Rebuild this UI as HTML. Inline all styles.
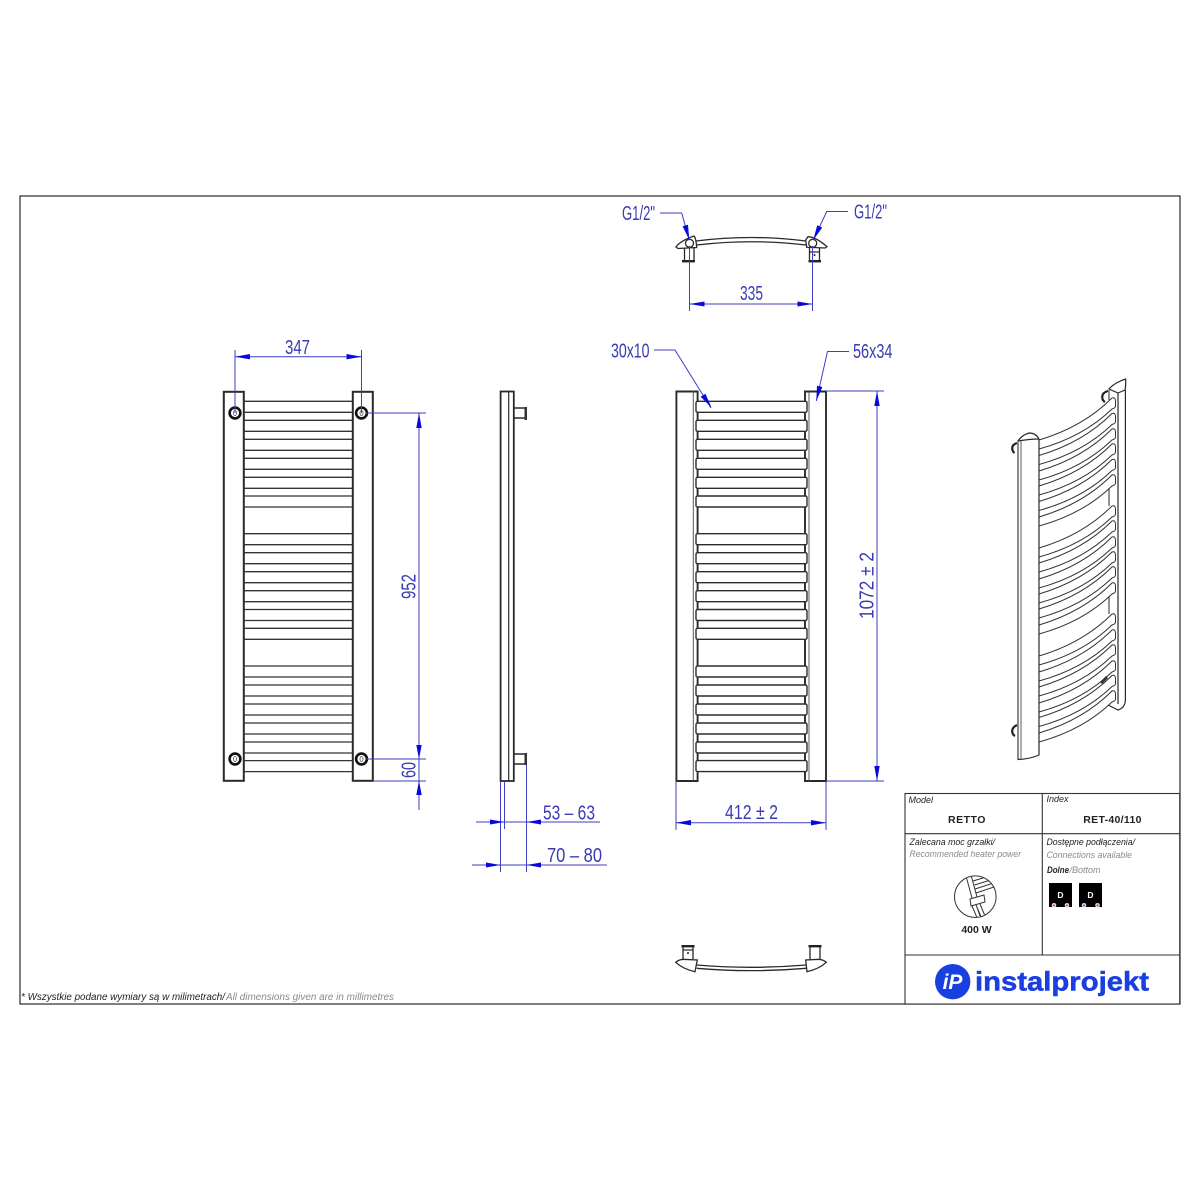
<!DOCTYPE html>
<html><head><meta charset="utf-8"><style>
html,body{margin:0;padding:0;background:#fff}
svg{display:block}
.d{font-family:"Liberation Sans",sans-serif;font-size:20px;fill:#3a3ab4}
.l{stroke:#3f3fc0;stroke-width:1;fill:none}
.a{fill:#0808dc}
.k{stroke:#2a2a2a;fill:none}
.t{font-family:"Liberation Sans",sans-serif;fill:#222}
.i{font-style:italic;font-size:9px}
.g{fill:#8a8a8a}
</style></head><body>
<svg width="1200" height="1200" viewBox="0 0 1200 1200" xmlns="http://www.w3.org/2000/svg">
<defs>
<clipPath id="cc"><circle cx="975.3" cy="896.7" r="20.5"/></clipPath>
<path id="r" d="M1039,42 Q1083,29 1112,0 Q1115.5,-1 1115.5,3 L1115.5,8 Q1115.5,10 1112,11 Q1083,39 1039,51 Z" fill="#fff" stroke="#333" stroke-width="1"/>
<g id="ft"><rect x="696" y="0" width="111" height="11" rx="1.5" fill="#fff" stroke="#2c2c2c" stroke-width="1.4"/></g>
<g id="lt"><path d="M244,0H352.5M244,11H352.5" stroke="#333" stroke-width="1.3" fill="none"/></g>
<g id="bolt"><circle r="5.4" fill="#fff" stroke="#111" stroke-width="2.6"/><ellipse rx="1.5" ry="2.6" fill="none" stroke="#555" stroke-width=".8"/></g>
</defs>
<rect width="1200" height="1200" fill="#fff"/>
<rect x="20" y="196" width="1160" height="808" fill="none" stroke="#3a3a3a" stroke-width="1.3"/>

<!-- left view -->
<g class="k" stroke-width="2"><rect x="223.8" y="391.8" width="20" height="389"/><rect x="352.8" y="391.8" width="20" height="389"/></g>
<use href="#lt" y="401.3"/><use href="#lt" y="420.3"/><use href="#lt" y="439.3"/><use href="#lt" y="458.3"/><use href="#lt" y="477.3"/><use href="#lt" y="496"/>
<use href="#lt" y="533.7"/><use href="#lt" y="552.7"/><use href="#lt" y="571.7"/><use href="#lt" y="590.7"/><use href="#lt" y="609.5"/><use href="#lt" y="628.3"/>
<use href="#lt" y="666"/><use href="#lt" y="685"/><use href="#lt" y="704"/><use href="#lt" y="723"/><use href="#lt" y="742"/><use href="#lt" y="760.6"/>
<use href="#bolt" x="235" y="413"/><use href="#bolt" x="361.5" y="413"/><use href="#bolt" x="235" y="759"/><use href="#bolt" x="361.5" y="759"/>
<path class="l" d="M235,350V413M361.5,350V413M235,356.7H361.5M366,413H426M366,759H426M373,781H426M419,413V810"/>
<polygon class="a" points="235,356.7 250,354 250,359.4"/><polygon class="a" points="361.5,356.7 346.5,354 346.5,359.4"/>
<polygon class="a" points="419,413 416.3,428 421.7,428"/><polygon class="a" points="419,759 416.3,745 421.7,745"/><polygon class="a" points="419,781 416.3,795 421.7,795"/>
<text class="d" x="285" y="354" textLength="25" lengthAdjust="spacingAndGlyphs">347</text>
<text class="d" transform="translate(415.5,599) rotate(-90)" textLength="25" lengthAdjust="spacingAndGlyphs">952</text>
<text class="d" transform="translate(415.5,778) rotate(-90)" textLength="16" lengthAdjust="spacingAndGlyphs">60</text>

<!-- side view -->
<g class="k"><rect x="500.6" y="391.5" width="13.2" height="389.5" stroke-width="1.8" fill="#fff"/><path d="M508.7,391.5V781" stroke-width="1.2"/>
<path d="M514,408H525M514,418H525M514,754H525M514,764H525" stroke-width="1.4"/></g>
<rect x="524.5" y="407" width="2.5" height="13" fill="#333"/><rect x="524.5" y="753" width="2.5" height="12" fill="#333"/>
<path class="l" d="M500.5,781V872M504.5,781V829M526.5,765V872M476,822H600M472,865H607"/>
<polygon class="a" points="504.5,822 490,819.5 490,824.5"/><polygon class="a" points="526.5,822 541,819.5 541,824.5"/>
<polygon class="a" points="500.5,865 486,862.5 486,867.5"/><polygon class="a" points="526.5,865 541,862.5 541,867.5"/>
<text class="d" x="543" y="819.5" textLength="52" lengthAdjust="spacingAndGlyphs">53 – 63</text>
<text class="d" x="547" y="862" textLength="55" lengthAdjust="spacingAndGlyphs">70 – 80</text>

<!-- front view -->
<g class="k"><path d="M697.6,391.5H676.4V781H697.6Z M805,391.5H826V781H805Z" stroke-width="1.9"/><path d="M693.3,391.5V781M809,391.5V781" stroke-width="1" stroke="#555"/></g>
<use href="#ft" y="401.3"/><use href="#ft" y="420.3"/><use href="#ft" y="439.3"/><use href="#ft" y="458.3"/><use href="#ft" y="477.3"/><use href="#ft" y="496"/>
<use href="#ft" y="533.7"/><use href="#ft" y="552.7"/><use href="#ft" y="571.7"/><use href="#ft" y="590.7"/><use href="#ft" y="609.5"/><use href="#ft" y="628.3"/>
<use href="#ft" y="666"/><use href="#ft" y="685"/><use href="#ft" y="704"/><use href="#ft" y="723"/><use href="#ft" y="742"/><use href="#ft" y="760.6"/>
<path class="l" d="M826,391H884M826,781H884M877,391V781M676,781V830M826,781V830M676,822.7H826"/>
<polygon class="a" points="877,391 874.3,406 879.7,406"/><polygon class="a" points="877,781 874.3,766 879.7,766"/>
<polygon class="a" points="676,822.7 691,820 691,825.4"/><polygon class="a" points="826,822.7 811,820 811,825.4"/>
<text class="d" transform="translate(873.5,619) rotate(-90)" textLength="67" lengthAdjust="spacingAndGlyphs">1072 ± 2</text>
<text class="d" x="725" y="819" textLength="53" lengthAdjust="spacingAndGlyphs">412 ± 2</text>
<path class="l" d="M654,350H675L711,408M849,351.5H827.5L816.3,401"/>
<polygon class="a" points="711.5,407.5 705.4,393.7 700.6,396.7"/><polygon class="a" points="816.3,401 822.4,387 817,385.8"/>
<text class="d" x="611" y="357.5" textLength="38.5" lengthAdjust="spacingAndGlyphs">30x10</text>
<text class="d" x="853" y="358" textLength="39.5" lengthAdjust="spacingAndGlyphs">56x34</text>

<!-- top view -->
<g class="k" stroke-width="1.3">
<path d="M696,241 Q751,234 806,241M697,245 Q751,238.5 806,245"/>
<path d="M684.5,248V260M694,248V260M809.5,248V260M819.5,248V260M809.5,252H819.5"/>
<path d="M676,247 Q680,241 694,236 Q696,238 696.7,247.5 L678,248.5Z M805.7,240 L808,236.7 Q816,237 827,246.7 L825,248 L806.7,247.3Z" fill="#fff"/>
<circle cx="689.5" cy="243.3" r="4"/><circle cx="812.7" cy="243.3" r="4"/>
</g>
<rect x="682" y="260" width="13" height="2.4" fill="#222"/><rect x="808.5" y="260" width="12.5" height="2.4" fill="#222"/>
<circle cx="814.5" cy="255" r="1" fill="#222"/>
<path class="l" d="M689.5,246V311M812.5,246V311M689.5,304H812.5M660,213H681.7L689.3,240M848,211.5H826.7L813.5,240"/>
<polygon class="a" points="689.5,304 704.5,301.5 704.5,306.5"/><polygon class="a" points="812.5,304 797.5,301.5 797.5,306.5"/>
<polygon class="a" points="689.3,240 688,224.8 682.6,226.3"/><polygon class="a" points="813.3,240 822.2,227.6 817.2,225.2"/>
<text class="d" x="740" y="300" textLength="23" lengthAdjust="spacingAndGlyphs">335</text>
<text class="d" x="622" y="220" textLength="33" lengthAdjust="spacingAndGlyphs">G1/2"</text>
<text class="d" x="854" y="218.5" textLength="33" lengthAdjust="spacingAndGlyphs">G1/2"</text>

<!-- bottom view -->
<g class="k" stroke-width="1.3">
<path d="M696.7,965 Q751,969.6 806,965M696.7,968.3 Q751,973 806,968.3"/>
<path d="M683,947V959M693,947V959M810,947V959M820,947V959M683,950H693"/>
<path d="M675.7,962.3 Q678,960 683,959.3 L697.3,960 L695,971.7 Q683,969 675.7,962.3Z M826.3,962.3 Q824,960 819,959.3 L805.7,960 L807,971.7 Q819,969 826.3,962.3Z" fill="#fff"/>
</g>
<rect x="681.5" y="945" width="13" height="2.4" fill="#222"/><rect x="808.5" y="945" width="13" height="2.4" fill="#222"/>
<circle cx="688" cy="953" r="1" fill="#222"/>

<!-- isometric -->
<g class="k" stroke-width="1.2">
<path d="M1109,389 Q1114,383 1125.6,379 Q1126,386 1125,390 L1118,393 L1109,389Z" fill="#fff"/>
<path d="M1118,393V704M1125.4,390V700 Q1125,708 1118,710 L1108,705"/>
<path d="M1109,488V506M1109,596V614M1109,390V400" stroke-width="1"/>
</g>
<path d="M1108,391 Q1101,393 1102.5,399 Q1103,401 1105,402" fill="none" stroke="#222" stroke-width="2.2"/>
<use href="#r" y="398"/><use href="#r" y="413.5"/><use href="#r" y="429"/><use href="#r" y="444"/><use href="#r" y="459.5"/><use href="#r" y="475"/>
<use href="#r" y="506"/><use href="#r" y="521"/><use href="#r" y="537"/><use href="#r" y="552"/><use href="#r" y="567"/><use href="#r" y="583"/>
<use href="#r" y="614"/><use href="#r" y="630"/><use href="#r" y="645"/><use href="#r" y="661"/><use href="#r" y="675.5"/><use href="#r" y="691"/>
<path d="M1100,682 L1106,676 L1108,678 L1102,684Z" fill="#333"/>
<g class="k" stroke-width="1.2">
<path d="M1018,441 Q1022,435 1029,433 Q1036,433 1039,439 L1039,755 Q1030,759 1018,759.5Z" fill="#fff"/>
<path d="M1018,441 Q1030,439 1039,439"/>
<path d="M1021,441V759" stroke="#777"/>
</g>
<path d="M1018,441V759" stroke="#777" stroke-width="1.6"/>
<path d="M1017,443 Q1011,445 1012.5,450 Q1013,452 1014.5,453" fill="none" stroke="#222" stroke-width="2.2"/>
<path d="M1017,725 Q1011,728 1012.5,733 Q1013,735 1015,736" fill="none" stroke="#222" stroke-width="2.2"/>

<!-- title block -->
<g stroke="#333" stroke-width="1.1" fill="none"><rect x="905" y="793.5" width="274.7" height="210.5" fill="#fff"/><path d="M905,833.7H1179.7M905,955H1179.7M1042.3,793.5V955"/></g>
<text class="t i" x="908.5" y="803" font-size="8.5">Model</text>
<text class="t i" x="1046.5" y="802">Index</text>
<text class="t" x="967" y="823" text-anchor="middle" font-size="10.5" font-weight="bold" letter-spacing=".5">RETTO</text>
<text class="t" x="1112.5" y="823" text-anchor="middle" font-size="10.5" font-weight="bold" letter-spacing=".3">RET-40/110</text>
<text class="t i" x="909.5" y="845" textLength="85.5" lengthAdjust="spacingAndGlyphs">Zalecana moc grzałki/</text>
<text class="t i g" x="909.5" y="857" textLength="111.5" lengthAdjust="spacingAndGlyphs">Recommended heater power</text>
<text class="t i" x="1046.5" y="845" textLength="88.5" lengthAdjust="spacingAndGlyphs">Dostępne podłączenia/</text>
<text class="t i g" x="1046.5" y="858" textLength="85.5" lengthAdjust="spacingAndGlyphs">Connections available</text>
<text class="t i" x="1047" y="873" font-weight="bold" font-size="8.5" textLength="22" lengthAdjust="spacingAndGlyphs">Dolne</text>
<text class="t i g" x="1069.5" y="873" textLength="31" lengthAdjust="spacingAndGlyphs">/Bottom</text>

<circle cx="975.3" cy="896.7" r="20.8" fill="none" stroke="#333" stroke-width="1"/>
<g clip-path="url(#cc)" stroke="#333" stroke-width="1" fill="#fff">
<path d="M966,876 L972,898M971,875 L977,897"/>
<path d="M973,881 L996,874M974.5,885 L997,878M975,889 L997,882M976,893 L997,886"/>
<path d="M970,899 L984,895 L985,902 L971,906Z"/>
<path d="M972,906 L978,920M976,905 L982,919M980,904 L985,916M976.5,906 L980,916"/>
</g>
<text class="t" x="976.5" y="933" text-anchor="middle" font-size="10.5" font-weight="bold">400 W</text>

<rect x="1049" y="883" width="23" height="24" fill="#000"/>
<rect x="1079" y="883" width="23" height="24" fill="#000"/>
<text x="1060.5" y="898" text-anchor="middle" font-family="Liberation Sans,sans-serif" font-size="8.5" font-weight="bold" fill="#fff">D</text>
<text x="1090.5" y="898" text-anchor="middle" font-family="Liberation Sans,sans-serif" font-size="8.5" font-weight="bold" fill="#fff">D</text>
<g fill="#f2d6d6"><circle cx="1054" cy="905.3" r="2.3"/><circle cx="1067" cy="905.3" r="2.3"/><circle cx="1084" cy="905.3" r="2.3" fill="#d8dcf2"/><circle cx="1097.5" cy="905.3" r="2.3"/></g>
<g fill="#b03040"><circle cx="1054" cy="905.3" r=".9"/><circle cx="1067" cy="905.3" r=".9"/><circle cx="1084" cy="905.3" r=".9" fill="#3040b0"/><circle cx="1097.5" cy="905.3" r=".9"/></g>

<circle cx="952.7" cy="981.7" r="17.7" fill="#1a3fe0"/>
<text x="952.5" y="989" text-anchor="middle" font-family="Liberation Sans,sans-serif" font-size="21" font-weight="bold" font-style="italic" fill="#fff">iP</text>
<text x="975" y="990.5" font-family="Liberation Sans,sans-serif" font-size="27" font-weight="bold" fill="#1a3fe0" stroke="#1a3fe0" stroke-width=".5" textLength="174" lengthAdjust="spacingAndGlyphs">instalprojekt</text>

<text class="t" x="21" y="1000" font-size="10" font-style="italic" textLength="204" lengthAdjust="spacingAndGlyphs">* Wszystkie podane wymiary są w milimetrach/</text>
<text class="t g" x="226" y="1000" font-size="10" font-style="italic" textLength="168" lengthAdjust="spacingAndGlyphs">All dimensions given are in millimetres</text>
</svg>
</body></html>
